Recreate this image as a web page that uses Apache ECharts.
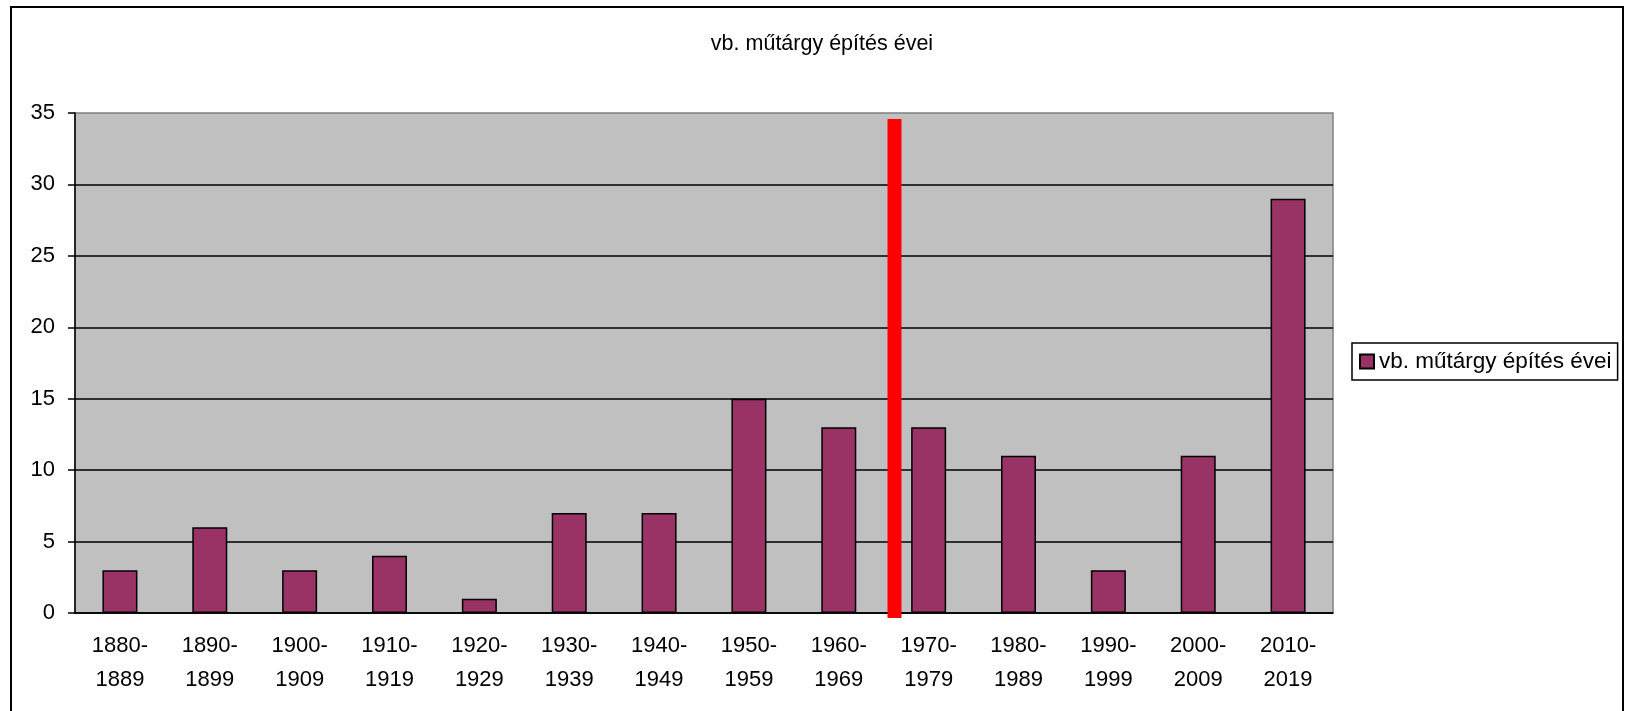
<!DOCTYPE html>
<html>
<head>
<meta charset="utf-8">
<title>vb. műtárgy építés évei</title>
<script src="https://cdn.jsdelivr.net/npm/echarts@6/dist/echarts.min.js"></script>
<style>
  html, body {
    margin: 0;
    padding: 0;
    background: #ffffff;
  }
  #chart {
    width: 1628px;
    height: 711px;
  }
</style>
</head>
<body>
<div id="chart"></div>
<script>
  // data
  const seriesName = "vb. műtárgy építés évei";
  const decades = [
    "1880-\n1889", "1890-\n1899", "1900-\n1909", "1910-\n1919", "1920-\n1929",
    "1930-\n1939", "1940-\n1949", "1950-\n1959", "1960-\n1969", "1970-\n1979",
    "1980-\n1989", "1990-\n1999", "2000-\n2009", "2010-\n2019"
  ];
  const counts = [3, 6, 3, 4, 1, 7, 7, 15, 13, 13, 11, 3, 11, 29];
  // red marker line (x in category units, y in values)
  const markerLine = [[9.12, -0.35], [9.12, 34.58]];

  const font = 'Arial, "Liberation Sans", sans-serif';

  const chart = echarts.init(document.getElementById("chart"));
  const option = {
    animation: false,
    textStyle: { fontFamily: font, color: "#000" },
    graphic: [
      {
        type: "rect",
        shape: { x: 11, y: 7, width: 1612, height: 780 },
        style: { fill: null, stroke: "#000", lineWidth: 2 },
        z: 100
      }
    ],
    title: {
      text: seriesName,
      left: 817,
      textAlign: "center",
      top: 28,
      textStyle: { fontFamily: font, fontSize: 21.5, fontWeight: "normal", color: "#000" }
    },
    legend: {
      data: [seriesName],
      left: 1352,
      top: 343,
      orient: "vertical",
      borderColor: "#000",
      borderWidth: 1.5,
      padding: [7, 6, 7, 7],
      itemWidth: 14,
      itemHeight: 14,
      icon: "rect",
      textStyle: { fontFamily: font, fontSize: 22.5, color: "#000" }
    },
    grid: {
      left: 75,
      top: 113,
      width: 1258,
      height: 500,
      show: true,
      backgroundColor: "#c0c0c0",
      borderColor: "#808080",
      borderWidth: 1.5
    },
    xAxis: [
      {
        type: "category",
        data: decades,
        axisLine: { lineStyle: { color: "#000", width: 1.5 } },
        axisTick: { length: 8, lineStyle: { color: "#000", width: 1.5 } },
        axisLabel: {
          fontFamily: font,
          fontSize: 22,
          lineHeight: 34,
          color: "#000",
          margin: 16,
          interval: 0
        }
      },
      {
        type: "value",
        min: 0,
        max: 14,
        show: false
      }
    ],
    yAxis: {
      type: "value",
      min: 0,
      max: 35,
      interval: 5,
      axisLine: { show: true, lineStyle: { color: "#000", width: 1.5 } },
      axisTick: { show: true, length: 7, lineStyle: { color: "#000", width: 1.5 } },
      splitLine: { showMaxLine: false, lineStyle: { color: "#000", width: 1.5 } },
      axisLabel: { fontFamily: font, fontSize: 22, color: "#000", margin: 20 }
    },
    series: [
      {
        name: seriesName,
        type: "bar",
        data: counts,
        barWidth: 35,
        itemStyle: { color: "#993366", borderColor: "#000", borderWidth: 1.5 }
      },
      {
        name: "marker",
        type: "line",
        xAxisIndex: 1,
        data: markerLine,
        symbol: "none",
        clip: false,
        silent: true,
        lineStyle: { color: "#ff0000", width: 14, cap: "butt" },
        z: 10
      }
    ]
  };
  chart.setOption(option);
</script>
</body>
</html>
